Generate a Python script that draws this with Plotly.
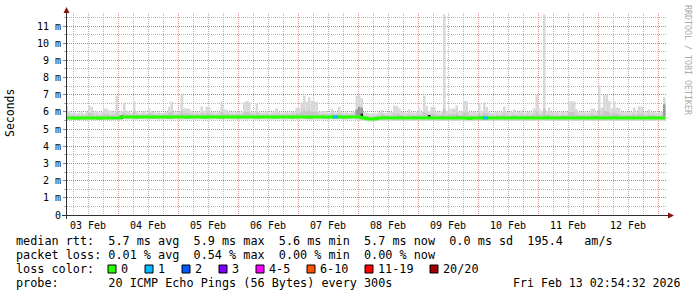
import plotly.graph_objects as go
import pandas as pd

# ---------------- data (hourly bins, ms) ----------------
start_time = "2026-02-03 03:00"
range_start = "2026-02-03 03:36"
range_end = "2026-02-13 03:36"

rtt_max = [
    6.37, 6.04, 5.95, 5.98, 5.92, 5.95, 5.98, 5.90, 6.00, 6.37, 6.30, 5.98,
    6.05, 5.96, 6.00, 6.20, 6.18, 6.08, 6.06, 5.98, 6.95, 6.02, 6.00, 6.55,
    6.08, 6.00, 5.96, 6.62, 6.00, 5.95, 5.98, 6.02, 5.96, 6.20, 6.05, 6.00,
    5.96, 5.98, 5.94, 5.97, 6.00, 6.30, 6.60, 6.00, 5.97, 6.02, 7.05, 6.20,
    6.20, 6.18, 6.05, 5.98, 6.00, 5.97, 6.33, 6.05, 6.30, 6.28, 6.00, 5.98,
    5.96, 6.00, 6.60, 6.15, 6.12, 6.00, 5.98, 5.96, 6.00, 6.02, 5.98, 6.55,
    6.62, 6.58, 6.00, 5.98, 6.50, 6.00, 5.96, 5.98, 6.05, 5.96, 5.98, 6.00,
    6.20, 6.00, 5.96, 5.98, 6.00, 5.97, 6.02, 6.00, 6.24, 6.22, 6.55, 6.95,
    6.60, 6.86, 6.65, 6.60, 6.58, 6.00, 6.05, 6.05, 5.98, 5.96, 6.20, 6.00,
    5.97, 6.30, 6.00, 5.96, 5.98, 5.95, 5.98, 6.00, 6.95, 6.95, 6.80, 6.00,
    5.95, 5.92, 5.90, 5.95, 5.92, 5.98, 6.10, 5.96, 5.94, 5.98, 6.00, 6.37,
    6.35, 6.20, 6.00, 5.98, 5.96, 6.15, 5.98, 5.96, 6.00, 6.20, 6.00, 6.95,
    6.35, 6.05, 6.30, 6.28, 6.00, 5.98, 6.05, 11.67, 6.05, 6.20, 6.18, 6.20,
    6.37, 6.00, 6.05, 6.65, 6.62, 6.00, 5.98, 6.00, 5.97, 6.50, 6.02, 6.57,
    6.30, 6.00, 5.95, 5.97, 6.00, 5.98, 6.02, 6.30, 6.00, 5.98, 6.02, 6.15,
    5.98, 6.00, 6.10, 5.96, 5.98, 6.00, 5.97, 6.20, 7.00, 6.20, 6.05, 11.67,
    6.05, 6.25, 6.00, 5.98, 6.00, 5.96, 6.02, 5.98, 6.00, 6.60, 6.62, 6.60,
    6.15, 6.00, 5.98, 6.00, 5.96, 5.98, 6.20, 6.18, 6.00, 7.55, 6.25, 7.00,
    6.98, 6.65, 6.20, 6.60, 6.25, 6.22, 6.00, 5.98, 6.02, 5.98, 6.00, 6.25,
    6.00, 6.33, 6.30, 6.00, 5.98, 6.15, 5.98, 6.00, 5.96, 5.98, 6.02, 6.85,
]

rtt_q_hi = [
    5.92, 5.82, 5.79, 5.80, 5.78, 5.79, 5.80, 5.77, 5.80, 5.95, 5.90, 5.80,
    5.82, 5.79, 5.80, 5.88, 5.86, 5.83, 5.82, 5.80, 5.98, 5.81, 5.84, 5.95,
    5.86, 5.84, 5.83, 6.00, 5.84, 5.83, 5.84, 5.85, 5.83, 5.92, 5.86, 5.84,
    5.83, 5.84, 5.82, 5.84, 5.85, 5.94, 6.02, 5.85, 5.84, 5.86, 6.05, 5.92,
    5.92, 5.90, 5.86, 5.84, 5.85, 5.84, 5.95, 5.86, 5.94, 5.93, 5.85, 5.84,
    5.83, 5.85, 6.00, 5.90, 5.88, 5.85, 5.84, 5.83, 5.85, 5.86, 5.84, 5.98,
    6.00, 5.98, 5.85, 5.84, 5.96, 5.85, 5.83, 5.84, 5.86, 5.83, 5.84, 5.85,
    5.90, 5.85, 5.83, 5.84, 5.85, 5.84, 5.86, 5.85, 5.92, 5.92, 6.00, 6.10,
    6.02, 6.08, 6.02, 6.00, 5.98, 5.85, 5.86, 5.86, 5.84, 5.83, 5.90, 5.85,
    5.84, 5.92, 5.85, 5.83, 5.84, 5.82, 5.84, 5.85, 6.05, 6.10, 6.00, 5.80,
    5.76, 5.74, 5.74, 5.75, 5.76, 5.79, 5.86, 5.80, 5.79, 5.80, 5.81, 5.92,
    5.90, 5.86, 5.80, 5.79, 5.78, 5.85, 5.79, 5.78, 5.80, 5.86, 5.80, 6.00,
    5.92, 5.82, 5.90, 5.89, 5.80, 5.79, 5.82, 6.20, 5.82, 5.86, 5.85, 5.86,
    5.92, 5.80, 5.82, 5.98, 5.96, 5.80, 5.79, 5.80, 5.78, 5.92, 5.80, 5.94,
    5.90, 5.80, 5.78, 5.79, 5.80, 5.79, 5.81, 5.90, 5.80, 5.79, 5.81, 5.85,
    5.79, 5.80, 5.84, 5.78, 5.79, 5.80, 5.79, 5.86, 6.02, 5.86, 5.82, 6.20,
    5.82, 5.88, 5.80, 5.79, 5.80, 5.78, 5.81, 5.79, 5.80, 5.98, 6.00, 5.98,
    5.85, 5.80, 5.79, 5.80, 5.78, 5.79, 5.86, 5.85, 5.80, 6.10, 5.88, 6.05,
    6.02, 5.96, 5.86, 5.96, 5.88, 5.87, 5.80, 5.79, 5.81, 5.79, 5.80, 5.88,
    5.80, 5.90, 5.89, 5.80, 5.79, 5.85, 5.79, 5.80, 5.78, 5.79, 5.81, 6.00,
]

rtt_median = [
    5.64, 5.64, 5.65, 5.64, 5.63, 5.64, 5.64, 5.65, 5.64, 5.64, 5.65, 5.64,
    5.64, 5.63, 5.64, 5.64, 5.65, 5.64, 5.64, 5.64, 5.65, 5.64, 5.70, 5.70,
    5.70, 5.71, 5.70, 5.70, 5.69, 5.70, 5.70, 5.71, 5.70, 5.70, 5.69, 5.70,
    5.70, 5.70, 5.71, 5.70, 5.70, 5.69, 5.70, 5.70, 5.70, 5.71, 5.70, 5.70,
    5.69, 5.70, 5.70, 5.70, 5.71, 5.70, 5.70, 5.69, 5.70, 5.70, 5.70, 5.71,
    5.70, 5.70, 5.69, 5.70, 5.70, 5.70, 5.71, 5.70, 5.70, 5.69, 5.70, 5.70,
    5.70, 5.71, 5.70, 5.70, 5.69, 5.70, 5.70, 5.70, 5.71, 5.70, 5.70, 5.69,
    5.70, 5.70, 5.70, 5.71, 5.70, 5.70, 5.69, 5.70, 5.70, 5.70, 5.71, 5.70,
    5.70, 5.69, 5.70, 5.70, 5.70, 5.71, 5.70, 5.70, 5.69, 5.70, 5.70, 5.70,
    5.71, 5.70, 5.70, 5.69, 5.70, 5.70, 5.70, 5.71, 5.70, 5.70, 5.68, 5.64,
    5.62, 5.59, 5.59, 5.59, 5.62, 5.65, 5.65, 5.66, 5.65, 5.65, 5.64, 5.65,
    5.65, 5.66, 5.65, 5.65, 5.64, 5.65, 5.65, 5.66, 5.65, 5.64, 5.65, 5.65,
    5.66, 5.65, 5.65, 5.64, 5.65, 5.65, 5.66, 5.65, 5.65, 5.65, 5.64, 5.65,
    5.65, 5.66, 5.65, 5.65, 5.64, 5.62, 5.65, 5.64, 5.64, 5.65, 5.66, 5.65,
    5.65, 5.65, 5.64, 5.65, 5.65, 5.66, 5.65, 5.65, 5.64, 5.65, 5.65, 5.66,
    5.65, 5.65, 5.64, 5.65, 5.65, 5.66, 5.65, 5.65, 5.64, 5.65, 5.65, 5.65,
    5.66, 5.65, 5.65, 5.64, 5.65, 5.65, 5.65, 5.66, 5.65, 5.65, 5.64, 5.65,
    5.65, 5.65, 5.66, 5.65, 5.65, 5.64, 5.65, 5.65, 5.66, 5.65, 5.65, 5.64,
    5.65, 5.65, 5.65, 5.66, 5.65, 5.65, 5.64, 5.65, 5.65, 5.65, 5.66, 5.65,
    5.65, 5.65, 5.64, 5.65, 5.65, 5.65, 5.66, 5.65, 5.65, 5.64, 5.65, 5.65,
]

rtt_min = [
    5.52, 5.53, 5.52, 5.51, 5.52, 5.53, 5.52, 5.52, 5.51, 5.52, 5.53, 5.52,
    5.52, 5.51, 5.52, 5.53, 5.52, 5.52, 5.51, 5.52, 5.53, 5.52, 5.55, 5.55,
    5.55, 5.56, 5.55, 5.54, 5.55, 5.56, 5.55, 5.55, 5.54, 5.55, 5.56, 5.55,
    5.55, 5.54, 5.55, 5.56, 5.55, 5.55, 5.54, 5.55, 5.56, 5.55, 5.54, 5.55,
    5.55, 5.56, 5.55, 5.55, 5.54, 5.55, 5.56, 5.55, 5.55, 5.54, 5.55, 5.56,
    5.55, 5.55, 5.54, 5.55, 5.56, 5.55, 5.55, 5.54, 5.55, 5.56, 5.55, 5.55,
    5.54, 5.55, 5.56, 5.55, 5.55, 5.54, 5.55, 5.56, 5.55, 5.55, 5.54, 5.55,
    5.56, 5.55, 5.55, 5.54, 5.55, 5.56, 5.55, 5.55, 5.54, 5.55, 5.56, 5.55,
    5.55, 5.54, 5.55, 5.56, 5.55, 5.55, 5.54, 5.55, 5.56, 5.55, 5.55, 5.54,
    5.55, 5.56, 5.55, 5.55, 5.54, 5.55, 5.56, 5.55, 5.52, 5.50, 5.50, 5.48,
    5.46, 5.44, 5.44, 5.45, 5.46, 5.48, 5.47, 5.48, 5.47, 5.48, 5.46, 5.47,
    5.48, 5.47, 5.48, 5.49, 5.47, 5.48, 5.48, 5.47, 5.49, 5.48, 5.47, 5.48,
    5.47, 5.48, 5.49, 5.48, 5.47, 5.48, 5.48, 5.49, 5.47, 5.48, 5.48, 5.47,
    5.48, 5.49, 5.47, 5.48, 5.48, 5.46, 5.48, 5.47, 5.48, 5.49, 5.48, 5.47,
    5.48, 5.47, 5.48, 5.49, 5.47, 5.48, 5.48, 5.47, 5.49, 5.48, 5.47, 5.48,
    5.47, 5.48, 5.49, 5.48, 5.47, 5.48, 5.48, 5.49, 5.47, 5.48, 5.48, 5.47,
    5.48, 5.49, 5.47, 5.48, 5.48, 5.47, 5.48, 5.47, 5.48, 5.49, 5.48, 5.47,
    5.48, 5.47, 5.48, 5.49, 5.47, 5.48, 5.48, 5.47, 5.49, 5.48, 5.47, 5.48,
    5.47, 5.48, 5.49, 5.48, 5.47, 5.48, 5.48, 5.49, 5.47, 5.48, 5.48, 5.47,
    5.48, 5.49, 5.47, 5.48, 5.48, 5.47, 5.48, 5.47, 5.48, 5.49, 5.48, 5.47,
]

# dense (dark) smoke columns
dark_idx = [116, 117, 118, 239]
dark_lo = [5.80, 5.80, 5.80, 5.75]
dark_hi = [6.15, 6.30, 6.25, 6.45]

# near-black marks on the median
black_idx = [22, 118, 145]
black_lo = [5.60, 5.58, 5.72]
black_hi = [5.79, 5.90, 5.81]

# hours with packet loss (count of lost pings)
loss_idx = [107, 108, 167, 168]
loss_cnt = [1, 1, 1, 1]

loss_labels = ["0", "1", "2", "3", "4-5", "6-10", "11-19", "20/20"]
loss_colors = ["#26ff00", "#00b8ff", "#0059ff", "#7e00ff", "#ff00ff",
               "#ff5500", "#ff0000", "#a10000"]

ytick_vals = list(range(12))
ytick_text = ["0"] + [f"{v} m" for v in range(1, 12)]

stats_lines = [
    "median rtt:  5.7 ms avg  5.9 ms max  5.6 ms min  5.7 ms now  0.0 ms sd  195.4   am/s",
    "packet loss: 0.01 % avg  0.54 % max  0.00 % min  0.00 % now",
    "loss color:",
    "probe:       20 ICMP Echo Pings (56 Bytes) every 300s",
]
stamp = "Fri Feb 13 02:54:32 2026"

# ---------------- geometry ----------------
W, H = 697, 297
L, T, PW, PH = 67, 13, 600, 202
MONO = "DejaVu Sans Mono"


def px(x):
    return (x - L) / PW


def py(y):
    return (T + PH - y) / PH


hours = pd.date_range(start_time, periods=len(rtt_max), freq="h")
centers = hours + pd.Timedelta(minutes=30)
edges = list(hours) + [hours[-1] + pd.Timedelta(hours=1)]
HOUR_MS = 3600000

fig = go.Figure()

fig.add_trace(go.Bar(
    x=centers, base=rtt_min, y=[a - b for a, b in zip(rtt_max, rtt_min)],
    width=HOUR_MS, marker=dict(color="#d8d8d8", line=dict(width=0)),
    hoverinfo="skip"))
fig.add_trace(go.Bar(
    x=centers, base=rtt_median, y=[a - b for a, b in zip(rtt_q_hi, rtt_median)],
    width=HOUR_MS, marker=dict(color="#c6c6c6", line=dict(width=0)),
    hoverinfo="skip"))
fig.add_trace(go.Bar(
    x=[centers[i] for i in dark_idx], base=dark_lo,
    y=[a - b for a, b in zip(dark_hi, dark_lo)],
    width=HOUR_MS, marker=dict(color="#9a9a9a", line=dict(width=0)),
    hoverinfo="skip"))

fig.add_trace(go.Scatter(
    x=edges, y=rtt_median + [rtt_median[-1]], mode="lines",
    line=dict(color=loss_colors[0], width=3, shape="hv"), hoverinfo="skip"))


def bucket(n):
    if n == 0:
        return 0
    if n <= 3:
        return n
    if n <= 5:
        return 4
    if n <= 10:
        return 5
    if n <= 19:
        return 6
    return 7


for i, n in zip(loss_idx, loss_cnt):
    fig.add_trace(go.Scatter(
        x=[edges[i], edges[i + 1]], y=[rtt_median[i], rtt_median[i]],
        mode="lines", line=dict(color=loss_colors[bucket(n)], width=3),
        hoverinfo="skip"))

fig.add_trace(go.Bar(
    x=[centers[i] for i in black_idx], base=black_lo,
    y=[a - b for a, b in zip(black_hi, black_lo)],
    width=HOUR_MS, marker=dict(color="#151515", line=dict(width=0)),
    hoverinfo="skip"))

MAJOR = "rgba(225,90,90,0.62)"
MINOR = "rgba(160,160,160,0.75)"

fig.update_layout(
    width=W, height=H, margin=dict(l=L, r=W - L - PW, t=T, b=H - T - PH),
    paper_bgcolor="white", plot_bgcolor="white", showlegend=False,
    barmode="overlay", font=dict(family=MONO, color="#000"),
    xaxis=dict(
        type="date", range=[range_start, range_end],
        tick0="2026-02-03", dtick=86400000, tickformat="%d %b",
        ticklabelmode="period", showgrid=True, gridcolor=MAJOR,
        griddash="1px,1px", gridwidth=1, zeroline=False, showline=False,
        ticks="", ticklabelstandoff=3,
        tickfont=dict(family=MONO, size=10, color="#000"),
        minor=dict(dtick=6 * 3600000, showgrid=True, gridcolor=MINOR,
                   griddash="1px,1px", gridwidth=1),
    ),
    yaxis=dict(
        range=[0, PH / 17.18], tickvals=ytick_vals, ticktext=ytick_text,
        showgrid=True, gridcolor=MAJOR, griddash="1px,1px", gridwidth=1,
        zeroline=False, showline=False, ticks="outside", ticklen=3,
        tickcolor="#888", tickfont=dict(family=MONO, size=10, color="#000"),
        minor=dict(dtick=0.5, tick0=0, showgrid=True, gridcolor=MINOR,
                   griddash="1px,1px", gridwidth=1, ticks="outside",
                   ticklen=2, tickcolor="#aaa"),
    ),
)

AX = "#303030"
ARROW = "#8b1010"
shapes = [
    dict(type="line", xref="paper", yref="paper", x0=px(66.5), x1=px(66.5),
         y0=py(219), y1=py(12), line=dict(color=AX, width=1)),
    dict(type="line", xref="paper", yref="paper", x0=px(62), x1=px(669),
         y0=py(215.5), y1=py(215.5), line=dict(color=AX, width=1)),
    dict(type="path", xref="paper", yref="paper",
         path=f"M {px(66.5)},{py(7)} L {px(63.5)},{py(13)} L {px(69.5)},{py(13)} Z",
         fillcolor=ARROW, line=dict(color=ARROW, width=0)),
    dict(type="path", xref="paper", yref="paper",
         path=f"M {px(674)},{py(215.5)} L {px(668)},{py(212.5)} L {px(668)},{py(218.5)} Z",
         fillcolor=ARROW, line=dict(color=ARROW, width=0)),
]

annotations = []


def txt(x, y, s, size=11.8, anchor="left", color="#000", angle=0):
    annotations.append(dict(
        xref="paper", yref="paper", x=px(x), y=py(y), text=s.replace(" ", "\u00a0"),
        showarrow=False, xanchor=anchor, yanchor="middle", textangle=angle,
        font=dict(family=MONO, size=size, color=color), borderpad=0))


line_y = [241.5, 255.3, 269.0, 282.7]
for s, y in zip(stats_lines, line_y):
    txt(15, y, s)
txt(512, line_y[3], "Fri Feb 13 02:54:32 2026", size=11.6)

bx = 108
for lab, col in zip(loss_labels, loss_colors):
    shapes.append(dict(type="rect", xref="paper", yref="paper",
                       x0=px(bx), x1=px(bx + 8), y0=py(265), y1=py(273),
                       fillcolor=col, line=dict(color="#000", width=1)))
    txt(bx + 12, line_y[2], lab)
    bx += 30 + 7 * len(lab)

txt(10, 113, "Seconds", size=11.5, anchor="center", angle=-90)
txt(688, 60, "RRDTOOL / TOBI OETIKER", size=8.3, anchor="center",
    color="#aaaaaa", angle=90)

fig.update_layout(shapes=shapes, annotations=annotations)
fig.write_html("out.html")
